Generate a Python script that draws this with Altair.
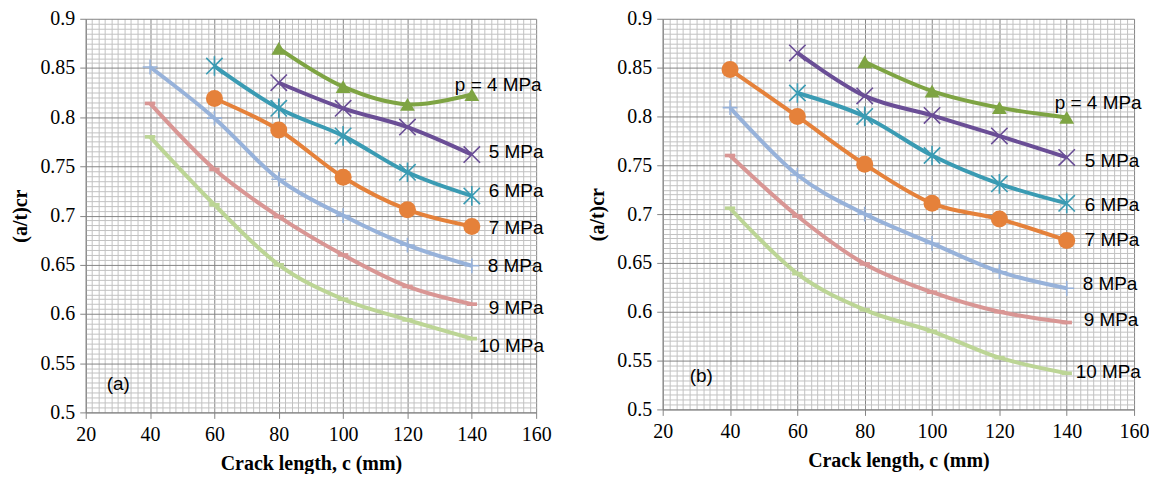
import altair as alt
import pandas as pd
import numpy as np

# ---------------- data ----------------
crack_len = [40, 60, 80, 100, 120, 140]
pressure = [4, 5, 6, 7, 8, 9, 10]
labels = ["p = 4 MPa", "5 MPa", "6 MPa", "7 MPa", "8 MPa", "9 MPa", "10 MPa"]

a_p4 = [None, None, 0.870, 0.831, 0.813, 0.823]
a_p5 = [None, None, 0.835, 0.809, 0.790, 0.762]
a_p6 = [None, 0.852, 0.809, 0.781, 0.744, 0.720]
a_p7 = [None, 0.819, 0.787, 0.739, 0.706, 0.689]
a_p8 = [0.851, 0.799, 0.737, 0.700, 0.670, 0.649]
a_p9 = [0.814, 0.747, 0.699, 0.660, 0.628, 0.610]
a_p10 = [0.780, 0.711, 0.650, 0.615, 0.594, 0.575]

b_p4 = [None, None, 0.856, 0.826, 0.809, 0.799]
b_p5 = [None, 0.865, 0.821, 0.801, 0.780, 0.758]
b_p6 = [None, 0.824, 0.800, 0.760, 0.731, 0.711]
b_p7 = [0.848, 0.800, 0.751, 0.711, 0.695, 0.673]
b_p8 = [0.809, 0.740, 0.700, 0.670, 0.641, 0.624]
b_p9 = [0.760, 0.698, 0.649, 0.620, 0.600, 0.589]
b_p10 = [0.706, 0.639, 0.602, 0.580, 0.553, 0.537]

panel_tags = ["(a)", "(b)"]
tag_x = [26.5, 28.0]
tag_y = [0.529, 0.534]

# ---------------- styles ----------------
colors = ["#7ea443", "#6a4e96", "#3a9bb3", "#e5813a", "#97b2da", "#d99694", "#bcd595"]
X_PATH = "M-1,-1L1,1M-1,1L1,-1"
AST_PATH = "M-1,-1L1,1M-1,1L1,-1M0,-1.2L0,1.2"
PLUS_PATH = "M-1,0L1,0M0,-1L0,1"
DASH_PATH = "M-1,-0.35L1,-0.35L1,0.35L-1,0.35Z"
markers = [
    dict(shape="triangle-up", filled=True, size=220, strokeWidth=0),
    dict(shape=X_PATH, filled=False, size=270, strokeWidth=1.6),
    dict(shape=AST_PATH, filled=False, size=270, strokeWidth=1.6),
    dict(shape="circle", filled=True, size=290, strokeWidth=0),
    dict(shape=PLUS_PATH, filled=False, size=220, strokeWidth=1.6),
    dict(shape=DASH_PATH, filled=True, size=110, strokeWidth=0),
    dict(shape=DASH_PATH, filled=True, size=110, strokeWidth=0),
]
offsets_a = [(-17, -10), (17, -3), (17, -5), (17, 2), (16, 0), (17, 4), (7, 7)]
offsets_b = [(-12, -14), (18, 4), (18, 2), (18, 0), (16, -4), (17, -2), (9, -1)]

x_grid = list(range(20, 161, 2))
y_grid = [round(0.5 + k * 0.005, 3) for k in range(81)]
MAJOR = "#858585"
MINOR = "#c2c2c2"
x_major_test = "datum.value % 20 === 0"
y_major_test = "abs(datum.value*20 - round(datum.value*20)) < 1e-6"


def build_df(series):
    rows = []
    for p, vals in zip(pressure, series):
        for c, v in zip(crack_len, vals):
            if v is not None:
                rows.append({"c": c, "v": v, "p": p})
    return pd.DataFrame(rows)


def make_panel(series, tag, tx, ty, offsets, width, height):
    df = build_df(series)
    xenc = alt.X(
        "c:Q",
        scale=alt.Scale(domain=[20, 160], nice=False, zero=False),
        axis=alt.Axis(
            values=x_grid, tickCount=1000,
            title="Crack length, c (mm)",
            labelExpr=f"{x_major_test} ? format(datum.value, 'd') : ''",
            labelOverlap=False, labelFlush=False, labelPadding=6,
            gridColor={"condition": {"test": x_major_test, "value": MAJOR}, "value": MINOR},
            tickOpacity={"condition": {"test": x_major_test, "value": 1}, "value": 0},
            titlePadding=9,
        ),
    )
    yenc = alt.Y(
        "v:Q",
        scale=alt.Scale(domain=[0.5, 0.9], nice=False, zero=False),
        axis=alt.Axis(
            values=y_grid, tickCount=1000,
            title="(a/t)cr",
            labelExpr=f"{y_major_test} ? format(datum.value, '.2~f') : ''",
            labelOverlap=False, labelFlush=False, labelPadding=5,
            gridColor={"condition": {"test": y_major_test, "value": MAJOR}, "value": MINOR},
            tickOpacity={"condition": {"test": y_major_test, "value": 1}, "value": 0},
            titlePadding=9,
        ),
    )
    base = alt.Chart(df)
    layers = []
    for i, p in enumerate(pressure):
        sub = base.transform_filter(alt.datum.p == p)
        layers.append(
            sub.mark_line(interpolate="cardinal", strokeWidth=4, color=colors[i]).encode(
                x=xenc, y=yenc, order="c:Q"
            )
        )
    for i, p in enumerate(pressure):
        sub = base.transform_filter(alt.datum.p == p)
        m = markers[i]
        kw = dict(shape=m["shape"], filled=m["filled"], size=m["size"], opacity=1)
        if m["filled"]:
            kw["fill"] = colors[i]
            kw["strokeWidth"] = 0
        else:
            kw["stroke"] = colors[i]
            kw["strokeWidth"] = m["strokeWidth"]
        layers.append(sub.mark_point(**kw).encode(x="c:Q", y="v:Q"))
    # series labels anchored at the last point
    for i, p in enumerate(pressure):
        lab = (
            base.transform_filter(alt.datum.p == p)
            .transform_filter(alt.datum.c == 140)
            .transform_calculate(t=f"'{labels[i]}'")
        )
        dx, dy = offsets[i]
        layers.append(
            lab.mark_text(
                align="left", baseline="middle", dx=dx, dy=dy,
                font="Liberation Sans", fontSize=19, color="black",
            ).encode(x="c:Q", y="v:Q", text="t:N")
        )
    tagdf = pd.DataFrame({"c": [tx], "v": [ty], "t": [tag]})
    layers.append(
        alt.Chart(tagdf).mark_text(
            align="left", baseline="middle", font="Liberation Sans", fontSize=19, color="black"
        ).encode(x="c:Q", y="v:Q", text="t:N")
    )
    return alt.layer(*layers).properties(width=width, height=height)


panel_a = make_panel([a_p4, a_p5, a_p6, a_p7, a_p8, a_p9, a_p10],
                     panel_tags[0], tag_x[0], tag_y[0], offsets_a, 452, 395)
panel_b = make_panel([b_p4, b_p5, b_p6, b_p7, b_p8, b_p9, b_p10],
                     panel_tags[1], tag_x[1], tag_y[1], offsets_b, 473, 392)

chart = (
    alt.hconcat(panel_a, panel_b, spacing=127, bounds="flush")
    .properties(padding={"left": 3, "top": 0, "right": 0, "bottom": 0}, background="white")
    .configure_view(stroke=None)
    .configure_axis(
        domainColor=MAJOR, domainWidth=1,
        tickColor=MAJOR, tickSize=6, tickWidth=1,
        gridWidth=1,
        labelFont="Liberation Serif", labelFontSize=20, labelColor="black",
        titleFont="Liberation Serif", titleFontSize=20, titleFontWeight="bold", titleColor="black",
    )
)

chart.save("out.html", embed_options={"renderer": "svg", "actions": False})
